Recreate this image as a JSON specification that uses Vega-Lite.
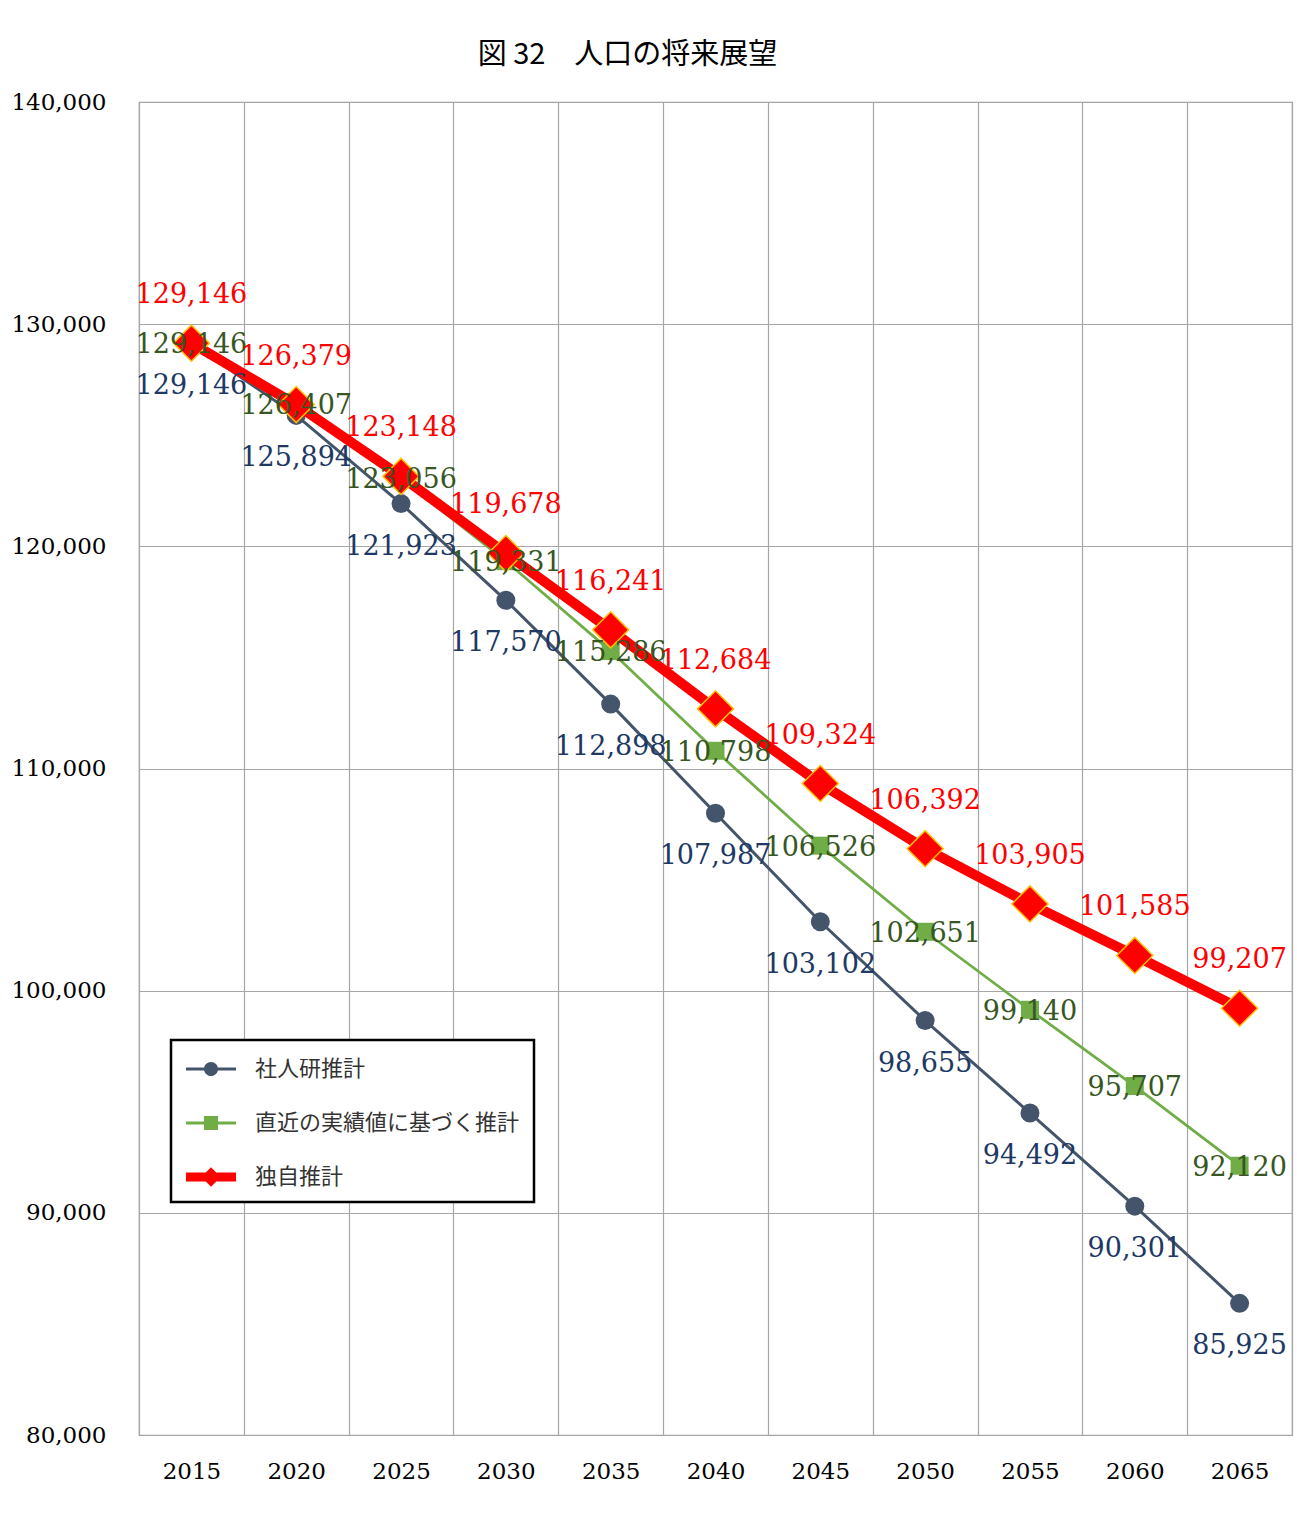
{
  "$schema": "https://vega.github.io/schema/vega-lite/v6.json",
  "autosize": {"type": "none"},
  "width": 1153,
  "height": 1333,
  "padding": {"left": 139, "top": 102, "right": 5, "bottom": 86},
  "background": "white",
  "title": {
    "text": "図 32　人口の将来展望",
    "font": "Noto Sans CJK JP",
    "fontSize": 29,
    "fontWeight": "normal",
    "color": "#000000",
    "anchor": "middle",
    "dx": -88,
    "offset": 21
  },
  "config": {
    "view": {"stroke": "#A0A0A0", "strokeWidth": 1.2},
    "axis": {"domain": false, "ticks": false, "tickSize": 0},
    "legend": {"strokeWidth": 2.5}
  },
  "data": {
    "values": [
      {"year": 2015, "series": "社人研推計", "value": 129146},
      {"year": 2020, "series": "社人研推計", "value": 125894},
      {"year": 2025, "series": "社人研推計", "value": 121923},
      {"year": 2030, "series": "社人研推計", "value": 117570},
      {"year": 2035, "series": "社人研推計", "value": 112898},
      {"year": 2040, "series": "社人研推計", "value": 107987},
      {"year": 2045, "series": "社人研推計", "value": 103102},
      {"year": 2050, "series": "社人研推計", "value": 98655},
      {"year": 2055, "series": "社人研推計", "value": 94492},
      {"year": 2060, "series": "社人研推計", "value": 90301},
      {"year": 2065, "series": "社人研推計", "value": 85925},
      {"year": 2015, "series": "直近の実績値に基づく推計", "value": 129146},
      {"year": 2020, "series": "直近の実績値に基づく推計", "value": 126407},
      {"year": 2025, "series": "直近の実績値に基づく推計", "value": 123056},
      {"year": 2030, "series": "直近の実績値に基づく推計", "value": 119331},
      {"year": 2035, "series": "直近の実績値に基づく推計", "value": 115286},
      {"year": 2040, "series": "直近の実績値に基づく推計", "value": 110798},
      {"year": 2045, "series": "直近の実績値に基づく推計", "value": 106526},
      {"year": 2050, "series": "直近の実績値に基づく推計", "value": 102651},
      {"year": 2055, "series": "直近の実績値に基づく推計", "value": 99140},
      {"year": 2060, "series": "直近の実績値に基づく推計", "value": 95707},
      {"year": 2065, "series": "直近の実績値に基づく推計", "value": 92120},
      {"year": 2015, "series": "独自推計", "value": 129146},
      {"year": 2020, "series": "独自推計", "value": 126379},
      {"year": 2025, "series": "独自推計", "value": 123148},
      {"year": 2030, "series": "独自推計", "value": 119678},
      {"year": 2035, "series": "独自推計", "value": 116241},
      {"year": 2040, "series": "独自推計", "value": 112684},
      {"year": 2045, "series": "独自推計", "value": 109324},
      {"year": 2050, "series": "独自推計", "value": 106392},
      {"year": 2055, "series": "独自推計", "value": 103905},
      {"year": 2060, "series": "独自推計", "value": 101585},
      {"year": 2065, "series": "独自推計", "value": 99207}
    ]
  },
  "encoding": {
    "x": {
      "field": "year",
      "type": "quantitative",
      "scale": {"domain": [2012.5, 2067.5], "nice": false, "zero": false},
      "axis": {
        "title": null,
        "values": [2012.5, 2015, 2017.5, 2020, 2022.5, 2025, 2027.5, 2030, 2032.5, 2035, 2037.5, 2040, 2042.5, 2045, 2047.5, 2050, 2052.5, 2055, 2057.5, 2060, 2062.5, 2065, 2067.5],
        "labelExpr": "datum.value % 5 == 0 ? format(datum.value, 'd') : ''",
        "labelOverlap": false,
        "labelFlush": false,
        "labelFont": "DejaVu Serif",
        "labelFontSize": 23,
        "labelColor": "#000000",
        "labelPadding": 25,
        "labelBaseline": "top",
        "grid": true,
        "gridColor": "#A6A6A6",
        "gridWidth": 1.2,
        "gridOpacity": {"condition": {"test": "datum.value % 5 == 0", "value": 0}, "value": 1}
      }
    },
    "y": {
      "field": "value",
      "type": "quantitative",
      "scale": {"domain": [80000, 140000], "nice": false, "zero": false},
      "axis": {
        "title": null,
        "values": [80000, 90000, 100000, 110000, 120000, 130000, 140000],
        "format": ",d",
        "labelFont": "DejaVu Serif",
        "labelFontSize": 23,
        "labelColor": "#000000",
        "labelPadding": 33,
        "grid": true,
        "gridColor": "#A6A6A6",
        "gridWidth": 1.2
      }
    }
  },
  "layer": [
    {
      "mark": {"type": "point", "filled": true, "opacity": 0, "size": 900},
      "encoding": {
        "color": {
          "field": "series",
          "type": "nominal",
          "scale": {
            "domain": ["社人研推計", "直近の実績値に基づく推計", "独自推計"],
            "range": ["#44546A", "#70AD47", "#FF0000"]
          },
          "legend": {
            "title": null,
            "orient": "none",
            "legendX": 32,
            "legendY": 938,
            "padding": 14,
            "rowPadding": 28,
            "symbolSize": 900,
            "symbolOffset": 11,
            "symbolOpacity": 1,
            "symbolStrokeWidth": 0,
            "labelOffset": 29,
            "labelFont": "Noto Sans CJK JP",
            "labelFontSize": 22,
            "labelColor": "#333333",
            "labelLimit": 500,
            "strokeColor": "#000000",
            "fillColor": "#FFFFFF"
          }
        },
        "shape": {
          "field": "series",
          "type": "nominal",
          "scale": {
            "domain": ["社人研推計", "直近の実績値に基づく推計", "独自推計"],
            "range": [
              "M-1.67,-0.1H1.67V0.1H-1.67Z M-0.47,0A0.47,0.47,0,1,1,0.47,0A0.47,0.47,0,1,1,-0.47,0Z",
              "M-1.67,-0.1H1.67V0.1H-1.67Z M-0.47,-0.47H0.47V0.47H-0.47Z",
              "M-1.67,-0.3H1.67V0.3H-1.67Z M0,-0.65L0.65,0L0,0.65L-0.65,0Z"
            ]
          },
          "legend": {
            "title": null,
            "orient": "none",
            "legendX": 32,
            "legendY": 938,
            "padding": 14,
            "rowPadding": 28,
            "symbolSize": 900,
            "symbolOffset": 11,
            "symbolOpacity": 1,
            "symbolStrokeWidth": 0,
            "labelOffset": 29,
            "labelFont": "Noto Sans CJK JP",
            "labelFontSize": 22,
            "labelColor": "#333333",
            "labelLimit": 500,
            "strokeColor": "#000000",
            "fillColor": "#FFFFFF"
          }
        }
      }
    },
    {
      "transform": [{"filter": "datum.series == '社人研推計'"}],
      "mark": {"type": "line", "color": "#44546A", "strokeWidth": 3}
    },
    {
      "transform": [{"filter": "datum.series == '直近の実績値に基づく推計'"}],
      "mark": {"type": "line", "color": "#70AD47", "strokeWidth": 2.8}
    },
    {
      "transform": [{"filter": "datum.series == '社人研推計'"}],
      "mark": {"type": "point", "shape": "circle", "filled": true, "color": "#44546A", "opacity": 1, "size": 361}
    },
    {
      "transform": [{"filter": "datum.series == '直近の実績値に基づく推計'"}],
      "mark": {"type": "point", "shape": "square", "filled": true, "color": "#70AD47", "opacity": 1, "size": 324}
    },
    {
      "transform": [{"filter": "datum.series == '独自推計'"}],
      "mark": {"type": "line", "color": "#FF0000", "strokeWidth": 10}
    },
    {
      "transform": [{"filter": "datum.series == '独自推計'"}],
      "mark": {"type": "point", "shape": "diamond", "filled": true, "fill": "#FF0000", "stroke": "#FFC000", "strokeWidth": 1.5, "opacity": 1, "size": 1300}
    },
    {
      "transform": [{"filter": "datum.series == '社人研推計'"}],
      "mark": {"type": "text", "font": "DejaVu Serif", "fontSize": 27, "color": "#203864", "baseline": "middle", "dy": 43},
      "encoding": {"text": {"field": "value", "type": "quantitative", "format": ","}}
    },
    {
      "transform": [{"filter": "datum.series == '直近の実績値に基づく推計'"}],
      "mark": {"type": "text", "font": "DejaVu Serif", "fontSize": 27, "color": "#375623", "baseline": "middle", "dy": 2},
      "encoding": {"text": {"field": "value", "type": "quantitative", "format": ","}}
    },
    {
      "transform": [{"filter": "datum.series == '独自推計'"}],
      "mark": {"type": "text", "font": "DejaVu Serif", "fontSize": 27, "color": "#FF0000", "baseline": "middle", "dy": -48},
      "encoding": {"text": {"field": "value", "type": "quantitative", "format": ","}}
    }
  ]
}
